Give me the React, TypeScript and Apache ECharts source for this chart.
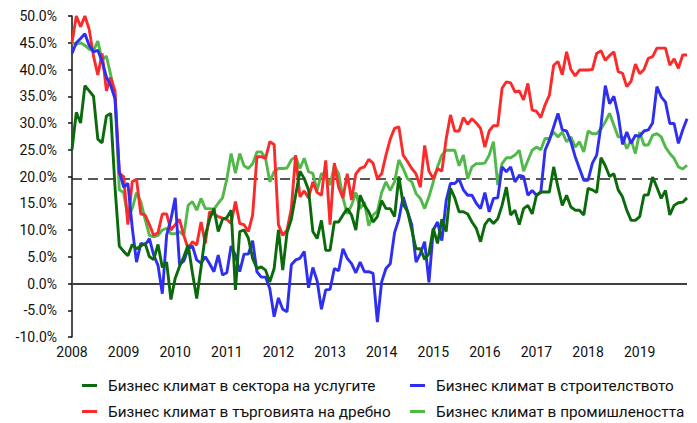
import React, { useEffect, useRef } from "react";
import * as echarts from "echarts";

const years = ["2008", "2009", "2010", "2011", "2012", "2013", "2014", "2015", "2016", "2017", "2018", "2019"];
const months = ["01", "02", "03", "04", "05", "06", "07", "08", "09", "10", "11", "12"];
const categories: string[] = [];
years.forEach((y) => months.forEach((m) => categories.push(`${y}-${m}`)));

const seriesNames = [
  "Бизнес климат в сектора на услугите",
  "Бизнес климат в строителството",
  "Бизнес климат в търговията на дребно",
  "Бизнес климат в промишлеността",
];

const services = [
  25, 32, 30, 37, 36, 35, 27, 26.3, 31.3, 31.8, 18, 7,
  6, 5.2, 7.3, 6.5, 7, 7.5, 5, 4.5, 7.3, 3, 4, -3,
  1, 3.2, 5, 7.2, 2, -2.8, 3, 9, 12, 14, 9.7, 12,
  12.3, 13.7, -1.2, 9.7, 10, 8.5, 4.7, 2.8, 3.1, 2.5, 0.3, 2.8,
  10, 2.5, 9.5, 12, 16.5, 21, 19.6, 17.5, 9.7, 8.4, 11.8, 6.2,
  6.2, 11.5, 11.5, 12.8, 14, 12.8, 10, 16.5, 14.6, 13.4, 11.5, 12.5,
  15.5, 14, 14, 12.5, 20, 14.8, 13.5, 10, 6.5, 6.5, 4.5, 5.6,
  10.3, 7.5, 12, 9.7, 17.8, 16, 13.4, 13.4, 13, 11.5, 10.3, 7.8,
  11, 12.1, 11.2, 12.1, 14.6, 18, 12.8, 13.7, 11, 14, 14.6, 13,
  16.5, 17.1, 17.1, 17.1, 21.8, 18, 14.6, 16.5, 14.3, 13.7, 13.7, 12.8,
  17.8, 17.5, 17, 23.5, 22, 20, 20.5, 17.5, 16.2, 13.7, 11.8, 11.8,
  12.5, 16.5, 16.6, 19.9, 18, 15.9, 17.4, 12.8, 14.6, 15.1, 15.2, 16,
];

const construction = [
  43, 45, 45.8, 46.7, 44.5, 43.3, 43.6, 41.5, 38.6, 37, 34.5, 21,
  18, 18.7, 10.5, 4, 7.5, 7.2, 8.4, 5.3, 3.4, -1.9, 9, 12,
  16, 3.5, 4.2, 6.5, 7, 4.4, 3.8, 5, 3.7, 2.2, 5.3, 1.6,
  2, 7, 5.3, 2.2, 5.5, 5.5, 8, 2.2, 1.2, 1.2, -1, -6.2,
  -2.7, -4.8, -5.3, 3.5, 4.4, 4.7, 6, -0.8, 3, 0.5, -4.8, -1.2,
  -1.1, 2.8, 2.4, 6.5, 4.7, 3.7, 2, 4, 2.2, 2.2, 1.9, -7.2,
  0.3, 2.8, 3.7, 9.5, 12, 16.2, 13.5, 11, 4, 5.6, 7.8, 0.2,
  10, 11.5, 8, 15.5, 18.7, 18.7, 19.5, 17.5, 16.5, 16.5, 15, 14,
  17, 13.4, 15.9, 16, 21.8, 20.9, 21.8, 19, 20.2, 20, 16.5, 17.4,
  16.5, 17, 24.9, 26.8, 29.3, 31.8, 28.7, 28.5, 26.5, 23.7, 21.5, 19.3,
  19.3, 22.5, 24, 29.5, 37, 33.6, 35, 31.5, 26, 28.3, 26.2, 27.7,
  27.5, 28.5, 28.7, 30, 36.8, 34.9, 33.9, 29.9, 29.9, 26.2, 28.7, 30.8,
];

const retail = [
  45, 50, 48, 50, 47.5, 42.5, 39, 43, 36, 38.5, 36, 20.5,
  20, 11, 19, 19.5, 13, 12.8, 11, 9, 9.5, 13, 13, 10,
  11, 12, 9, 6.5, 7.8, 7.2, 11.5, 7.5, 13.4, 13, 12.5, 12.2,
  12, 11.2, 15.3, 11.2, 11, 9.7, 12.8, 23.7, 23.7, 23.4, 26.5, 26,
  11, 9, 10, 14, 24, 16.2, 17.3, 16, 19, 17, 16.5, 23,
  11, 22.5, 18, 16, 20.5, 15.6, 20.5, 21.5, 21.8, 23.2, 22.5, 19.6,
  20.5, 24, 27, 29, 29.3, 24, 22.8, 21.5, 20.5, 18, 25.8, 21,
  19.6, 21.5, 21, 27, 31.5, 28.5, 28.5, 31, 29.8, 30.8, 30, 29,
  25.5, 28.5, 29.5, 29.5, 36.5, 37.7, 37.5, 35.8, 36, 34.3, 37.4, 32.4,
  32.2, 31, 33.4, 35.2, 40.8, 41.5, 39, 43.3, 40, 38.8, 39.9, 39.9,
  39.9, 40, 43, 43.5, 41.7, 42.6, 43.3, 39.6, 39.3, 36.8, 37.8, 41,
  39.2, 40, 42.1, 42.4, 44, 44, 44, 40.8, 42, 40.2, 42.7, 42.7,
];

const industry = [
  45, 44.7, 45, 44.5, 43.8, 43.5, 45.3, 41.8, 42.5, 39, 35, 17.5,
  17, 12.5, 14, 17, 15.3, 12, 9, 8.7, 9, 10, 10.3, 9.3,
  9.3, 9.7, 9, 14.6, 15.3, 13.7, 15.9, 14, 14, 13.9, 15, 16,
  19.5, 24.3, 20.6, 24.3, 22, 21.5, 22.4, 24.6, 24.6, 23.4, 19, 20.9,
  21.5, 21.5, 21.6, 23.1, 23.7, 21.5, 23.4, 20.9, 20.6, 17.4, 20.6, 20,
  18.4, 22, 20.5, 16, 13, 14.6, 17, 14, 15.2, 10.8, 12.8, 13.5,
  17, 19, 17.4, 19, 23.1, 21.5, 19.6, 19, 16.8, 15.9, 14, 16.2,
  19, 21.8, 24, 24.9, 24.9, 24.9, 22, 24, 19.6, 21.8, 22.4, 22.4,
  22.5, 24, 26.5, 18.4, 22.4, 23.5, 23.5, 24, 24.9, 21, 23, 24.9,
  25.5, 25, 27.1, 27.1, 28.3, 27.4, 28.3, 26.5, 27.4, 25.5, 26.5, 24.6,
  28.5, 28, 28, 28.9, 30.2, 31.8, 29.6, 27.4, 27.4, 25.2, 26.8, 24.3,
  28.3, 25.9, 25.9, 27.7, 28, 27.4, 25.5, 24.3, 23.4, 21.8, 21.4, 22.1,
];

const averageLevel = 19.5;
const yTicks = { min: -10, max: 50, step: 5 };

const colors = ["#0b6a0b", "#2f2ff2", "#fb2b2b", "#52b84a"];
const seriesData = [services, construction, retail, industry];

const FONT = "Roboto, 'Noto Sans', sans-serif";

export default function App() {
  const ref = useRef<HTMLDivElement>(null);
  useEffect(() => {
    if (!ref.current) return;
    const chart = echarts.init(ref.current, null, { renderer: "svg" });
    const legendPos = [
      { left: 82, top: 378 },
      { left: 410, top: 378 },
      { left: 82, top: 404 },
      { left: 410, top: 404 },
    ];
    chart.setOption({
      animation: false,
      grid: { left: 72, right: 10, top: 16, bottom: 86, containLabel: false },
      xAxis: {
        type: "category",
        data: categories,
        boundaryGap: false,
        axisLine: { show: false },
        axisTick: { show: false },
        splitLine: { show: false },
        axisLabel: {
          interval: 11,
          formatter: (v: string) => v.slice(0, 4),
          color: "#111",
          fontSize: 14,
          fontFamily: FONT,
          margin: 8,
        },
      },
      yAxis: {
        type: "value",
        min: yTicks.min,
        max: yTicks.max,
        interval: yTicks.step,
        axisLine: { show: true, lineStyle: { color: "#111", width: 1.5 } },
        axisTick: { show: true, length: 4, lineStyle: { color: "#111", width: 1.5 } },
        splitLine: { show: false },
        axisLabel: {
          formatter: (v: number) => `${v.toFixed(1)}%`,
          color: "#111",
          fontSize: 14,
          fontFamily: FONT,
          margin: 15,
        },
      },
      legend: [0, 1, 2, 3].map((i) => ({
        data: [seriesNames[i]],
        left: legendPos[i].left,
        top: legendPos[i].top,
        icon: "rect",
        itemWidth: 15,
        itemHeight: 3,
        padding: 0,
        textStyle: { fontSize: 15.3, fontFamily: FONT, color: "#111", padding: [0, 0, 0, 6] },
      })),
      series: seriesData.map((d, i) => ({
        name: seriesNames[i],
        type: "line",
        data: d,
        showSymbol: false,
        symbol: "none",
        lineStyle: { color: colors[i], width: 2.9 },
        itemStyle: { color: colors[i] },
        z: i === 0 ? 5 : 4 - i,
        markLine:
          i === 0
            ? {
                silent: true,
                symbol: ["none", "none"],
                label: { show: false },
                data: [
                  { yAxis: 0, lineStyle: { color: "#404040", width: 2, type: "solid" } },
                  { yAxis: averageLevel, lineStyle: { color: "#222", width: 1.5, type: [10, 6] } },
                ],
                z: 1,
              }
            : undefined,
      })),
    });
    return () => chart.dispose();
  }, []);
  return <div ref={ref} style={{ width: 697, height: 423, position: "absolute", left: 0, top: 0 }} />;
}
